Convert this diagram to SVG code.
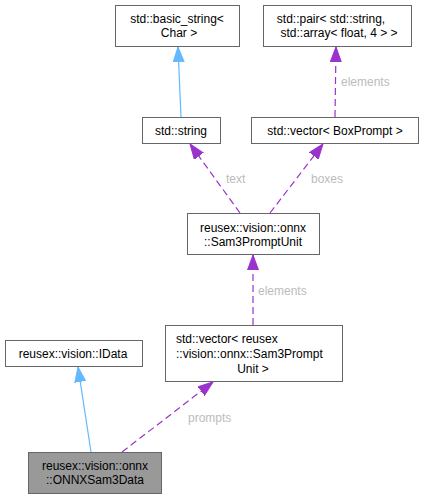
<svg xmlns="http://www.w3.org/2000/svg" width="424" height="498" viewBox="0 0 424 498">
<style>
.box{fill:#fff;stroke:#666;stroke-width:1}
.sel{fill:#999;stroke:#666;stroke-width:1}
text{font-family:"Liberation Sans",Arial,sans-serif;font-size:12px;fill:#000}
.c{text-anchor:middle}
.lbl{fill:#bcbcbc;font-size:12px}
.inh{stroke:#63b8ff;stroke-width:1.2;fill:none}
.use{stroke:#9a32cd;stroke-width:1.2;fill:none;stroke-dasharray:7,4}
</style>
<defs>
<marker id="ab" markerUnits="userSpaceOnUse" markerWidth="16" markerHeight="12" refX="15" refY="6" orient="auto">
<path d="M0,0.5 L15,6 L0,11.5 Z" fill="#63b8ff" stroke="#63b8ff"/>
</marker>
<marker id="ap" markerUnits="userSpaceOnUse" markerWidth="16" markerHeight="12" refX="15" refY="6" orient="auto">
<path d="M0,0.5 L15,6 L0,11.5 Z" fill="#9a32cd" stroke="#9a32cd"/>
</marker>
</defs>
<g id="connectors">
<path class="inh" d="M181,117 L178,47" marker-end="url(#ab)"/>
<path class="use" d="M335,117 L336,47" marker-end="url(#ap)"/>
<text class="lbl" x="341" y="86">elements</text>
<path class="use" d="M240,213 L190,144" marker-end="url(#ap)"/>
<text class="lbl" x="226" y="183">text</text>
<path class="use" d="M270,213 L323,144" marker-end="url(#ap)"/>
<text class="lbl" x="311" y="183">boxes</text>
<path class="use" d="M253,325 L253,255" marker-end="url(#ap)"/>
<text class="lbl" x="258" y="295">elements</text>
<path class="inh" d="M91,452 L78,367" marker-end="url(#ab)"/>
<path class="use" d="M122,452 L213,382" marker-end="url(#ap)"/>
<text class="lbl" x="188" y="422">prompts</text>
</g>
<g id="basic_string">
<rect class="box" x="115.5" y="5.5" width="124" height="41"/>
<text class="c" x="177" y="23">std::basic_string&lt;</text>
<text class="c" x="179" y="37">Char &gt;</text>
</g>
<g id="pair">
<rect class="box" x="263.5" y="5.5" width="148" height="41"/>
<text class="c" x="331" y="23">std::pair&lt; std::string,</text>
<text class="c" x="339" y="37">std::array&lt; float, 4 &gt; &gt;</text>
</g>
<g id="string">
<rect class="box" x="142.5" y="117.5" width="78" height="26"/>
<text class="c" x="181" y="135">std::string</text>
</g>
<g id="vector_boxprompt">
<rect class="box" x="251.5" y="117.5" width="167" height="26"/>
<text class="c" x="335" y="135">std::vector&lt; BoxPrompt &gt;</text>
</g>
<g id="sam3promptunit">
<rect class="box" x="187.5" y="213.5" width="132" height="41"/>
<text class="c" x="253" y="232">reusex::vision::onnx</text>
<text class="c" x="253" y="246">::Sam3PromptUnit</text>
</g>
<g id="vector_sam3promptunit">
<rect class="box" x="165.5" y="325.5" width="177" height="56"/>
<text x="176" y="343">std::vector&lt; reusex</text>
<text x="176" y="358">::vision::onnx::Sam3Prompt</text>
<text class="c" x="253" y="373">Unit &gt;</text>
</g>
<g id="idata">
<rect class="box" x="5.5" y="340.5" width="137" height="26"/>
<text class="c" x="73" y="358">reusex::vision::IData</text>
</g>
<g id="onnxsam3data">
<rect class="sel" x="28.5" y="452.5" width="133" height="41"/>
<text class="c" x="95" y="470">reusex::vision::onnx</text>
<text class="c" x="95" y="484">::ONNXSam3Data</text>
</g>
</svg>
